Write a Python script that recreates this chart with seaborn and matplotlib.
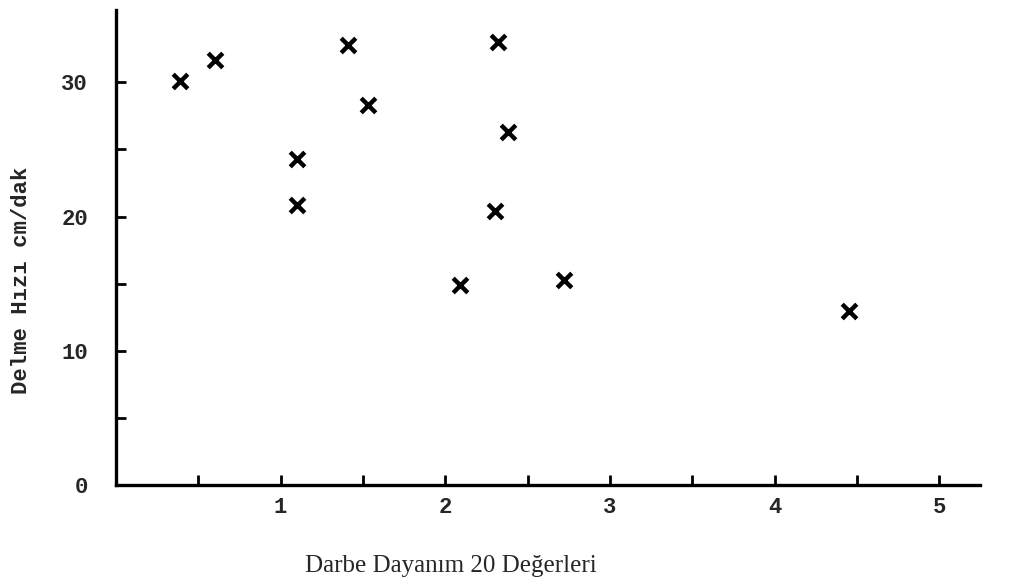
import matplotlib
matplotlib.use('Agg')
import matplotlib.pyplot as plt
import seaborn as sns
import pandas as pd
from matplotlib.ticker import FixedLocator

sns.set_style('white')

# Data
darbe = [0.39, 0.60, 1.41, 2.32, 1.53, 2.38, 1.10, 1.10, 2.30, 2.09, 2.72, 4.45]
delme = [30.1, 31.7, 32.8, 33.0, 28.3, 26.3, 24.3, 20.9, 20.4, 14.9, 15.3, 13.0]
x_ticks = [1, 2, 3, 4, 5]
x_minor = [0.5, 1.5, 2.5, 3.5, 4.5]
y_ticks = [0, 10, 20, 30]
y_minor = [5, 15, 25]

df = pd.DataFrame({'darbe': darbe, 'delme': delme})

fig = plt.figure(figsize=(10.16, 5.85), dpi=100)
ax = fig.add_axes([0.114, 0.171, 0.851, 0.812])

sns.scatterplot(data=df, x='darbe', y='delme', marker='x', s=110,
                color='black', linewidth=3.2, ax=ax, legend=False)

ax.set_xlim(0, 5.25)
ax.set_ylim(0, 35.4)

# Only left and bottom axis lines, thick like the ink drawing
for side in ['top', 'right']:
    ax.spines[side].set_visible(False)
for side in ['left', 'bottom']:
    ax.spines[side].set_linewidth(2.4)
    ax.spines[side].set_color('black')

ax.set_xticks(x_ticks)
ax.set_yticks(y_ticks)
ax.xaxis.set_minor_locator(FixedLocator(x_minor))
ax.yaxis.set_minor_locator(FixedLocator(y_minor))
ax.tick_params(axis='both', which='both', direction='in', color='black',
               width=2, length=7, bottom=True, left=True)
ax.tick_params(axis='x', which='major', pad=9)
ax.tick_params(axis='y', which='major', pad=20)

for lab in ax.get_xticklabels() + ax.get_yticklabels():
    lab.set_family('Liberation Mono')
    lab.set_fontweight('bold')
    lab.set_fontsize(16)

ax.set_xlabel('')
ax.set_ylabel('Delme Hızı cm/dak', family='Liberation Mono',
              fontweight='bold', fontsize=16)
ax.yaxis.set_label_coords(-0.097, 0.43)
ax.grid(False)

fig.text(0.444, 0.032, 'Darbe Dayanım 20 Değerleri', family='Liberation Serif',
         fontsize=18, ha='center', va='center')

fig.savefig('out.png', dpi=100, facecolor='white')
